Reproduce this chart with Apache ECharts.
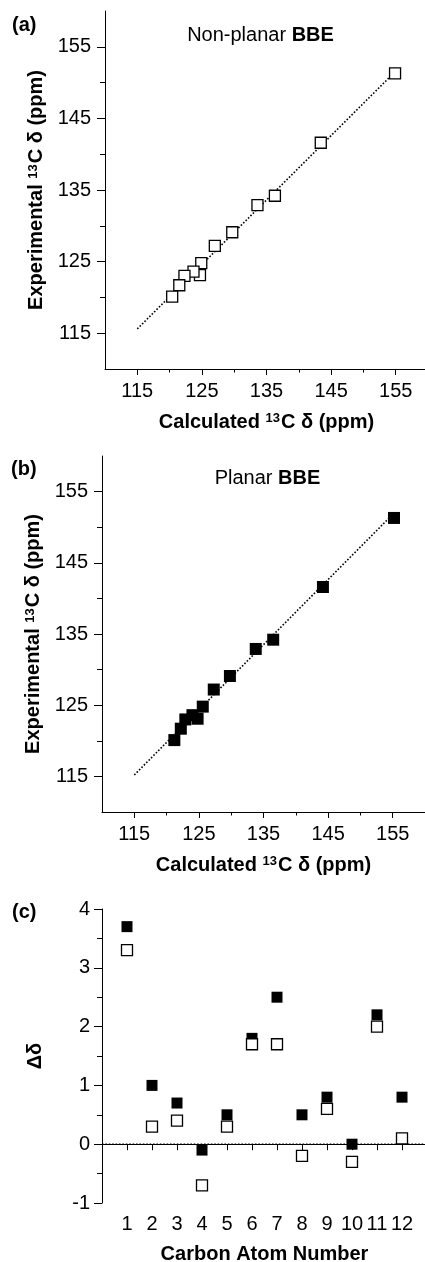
<!DOCTYPE html>
<html><head><meta charset="utf-8">
<script src="https://cdn.jsdelivr.net/npm/echarts@6/dist/echarts.min.js"></script>
<style>html,body{margin:0;padding:0;background:#fff}#c{width:425px;height:1262px}</style>
</head><body><div id="c"></div>
<script>
// ---- data ----
const expShift      = [151.3, 141.6, 134.2, 132.9, 129.1, 127.2, 124.8, 123.1, 123.6, 123.0, 121.7, 120.1];
const calcNonPlanar = [154.9, 143.4, 136.3, 133.6, 129.7, 127.0, 124.9, 124.7, 123.7, 122.3, 121.5, 120.4];
const calcPlanar    = [155.2, 144.2, 136.5, 133.8, 129.8, 127.3, 125.6, 124.8, 124.0, 122.9, 122.2, 121.2];
const fitNonPlanar  = [[115, 115.6], [155, 151.6]];
const fitPlanar     = [[115, 115.2], [155, 151.8]];
const carbonNumbers = [1, 2, 3, 4, 5, 6, 7, 8, 9, 10, 11, 12];
const deltaNonPlanar = [3.3, 0.3, 0.4, -0.7, 0.3, 1.7, 1.7, -0.2, 0.6, -0.3, 2.0, 0.1];
const deltaPlanar    = [3.7, 1.0, 0.7, -0.1, 0.5, 1.8, 2.5, 0.5, 0.8, 0.0, 2.2, 0.8];
const zeroLine = [[0, 0], [13, 0]];
const shiftTickLabels = [115, 125, 135, 145, 155];
const shiftMinorTicks = [120, 130, 140, 150];

const FONT = 'Liberation Sans, Arial, Helvetica, sans-serif';
const FS = 20;
const TFS = 20;
const nameStyle = {
  fontFamily: FONT, fontSize: FS, fontWeight: 'bold', color: '#000',
  rich: { sup: { fontFamily: FONT, fontSize: 13, fontWeight: 'bold', color: '#000', verticalAlign: 'top', padding: [0, 1, 0, 0] } }
};
const lineBlack = { show: true, lineStyle: { color: '#000', width: 1 } };
const labelStyle = { fontFamily: FONT, fontSize: TFS, color: '#000' };

function pair(list) { return list.map((c, i) => [c, expShift[i]]); }
function byCarbon(list) { return carbonNumbers.map((n, i) => [n, list[i]]); }

function shiftAxes(grid, xName, yName) {
  const xMain = {
    type: 'value', gridIndex: grid, position: 'bottom', min: 110, max: 160, interval: 5,
    axisLine: lineBlack, splitLine: { show: false },
    axisTick: { show: true, inside: false, length: 6, customValues: shiftTickLabels, lineStyle: { color: '#000' } },
    axisLabel: { show: true, customValues: shiftTickLabels, margin: 12, ...labelStyle },
    name: xName, nameLocation: 'middle', nameGap: 43, nameTextStyle: nameStyle
  };
  const xMinor = {
    type: 'value', gridIndex: grid, position: 'bottom', min: 110, max: 160, interval: 5,
    axisLine: { show: false }, splitLine: { show: false }, axisLabel: { show: false },
    axisTick: { show: true, length: 3.5, customValues: shiftMinorTicks, lineStyle: { color: '#000' } }
  };
  const yMain = {
    type: 'value', gridIndex: grid, position: 'left', min: 110, max: 160, interval: 5,
    axisLine: lineBlack, splitLine: { show: false },
    axisTick: { show: true, length: 8, customValues: shiftTickLabels, lineStyle: { color: '#000' } },
    axisLabel: { show: true, customValues: shiftTickLabels, margin: 14, ...labelStyle },
    name: yName, nameLocation: 'middle', nameGap: 58, nameTextStyle: nameStyle
  };
  const yMinor = {
    type: 'value', gridIndex: grid, position: 'left', min: 110, max: 160, interval: 5,
    axisLine: { show: false }, splitLine: { show: false }, axisLabel: { show: false },
    axisTick: { show: true, length: 5, customValues: shiftMinorTicks, lineStyle: { color: '#000' } }
  };
  return { x: [xMain, xMinor], y: [yMain, yMinor] };
}

const xName = 'Calculated {sup|13}C δ (ppm)';
const yName = 'Experimental {sup|13}C δ (ppm)';
const A = shiftAxes(0, xName, yName);
const B = shiftAxes(1, xName, yName);

const dotted = { color: '#000', width: 1.6, type: [1.6, 1.8] };

const option = {
  animation: false,
  backgroundColor: '#fff',
  grid: [
    { left: 105, top: 11, width: 323, height: 358, outerBoundsMode: 'none', containLabel: false },
    { left: 102, top: 456, width: 323, height: 356, outerBoundsMode: 'none', containLabel: false },
    { left: 102, top: 909, width: 325, height: 294, outerBoundsMode: 'none', containLabel: false }
  ],
  xAxis: [
    ...A.x, ...B.x,
    {
      type: 'value', gridIndex: 2, position: 'bottom', min: 0, max: 13, interval: 1,
      axisLine: lineBlack, splitLine: { show: false },
      axisTick: { show: true, length: 6, customValues: carbonNumbers, lineStyle: { color: '#000' } },
      axisLabel: { show: true, customValues: carbonNumbers, margin: 11, ...labelStyle },
      name: 'Carbon Atom Number', nameLocation: 'middle', nameGap: 41, nameTextStyle: nameStyle
    }
  ],
  yAxis: [
    ...A.y, ...B.y,
    {
      type: 'value', gridIndex: 2, position: 'left', min: -1, max: 4, interval: 1,
      axisLine: lineBlack, splitLine: { show: false },
      axisTick: { show: true, length: 8, lineStyle: { color: '#000' } },
      minorTick: { show: true, splitNumber: 2, length: 5, lineStyle: { color: '#000' } },
      axisLabel: { show: true, margin: 12, ...labelStyle },
      name: 'Δδ', nameLocation: 'middle', nameGap: 57, nameTextStyle: nameStyle
    }
  ],
  series: [
    { type: 'line', z: 1, xAxisIndex: 0, yAxisIndex: 0, data: fitNonPlanar, symbol: 'none', lineStyle: dotted, silent: true },
    { type: 'scatter', z: 2, xAxisIndex: 0, yAxisIndex: 0, data: pair(calcNonPlanar), symbol: 'rect', symbolSize: 11,
      itemStyle: { color: '#fff', borderColor: '#000', borderWidth: 1.3, opacity: 1 } },
    { type: 'line', z: 1, xAxisIndex: 2, yAxisIndex: 2, data: fitPlanar, symbol: 'none', lineStyle: dotted, silent: true },
    { type: 'scatter', z: 2, xAxisIndex: 2, yAxisIndex: 2, data: pair(calcPlanar), symbol: 'rect', symbolSize: 12,
      itemStyle: { color: '#000', borderColor: '#000', borderWidth: 0, opacity: 1 } },
    { type: 'line', z: 1, xAxisIndex: 4, yAxisIndex: 4, data: zeroLine, symbol: 'none', lineStyle: dotted, silent: true },
    { type: 'scatter', z: 2, xAxisIndex: 4, yAxisIndex: 4, data: byCarbon(deltaPlanar), symbol: 'rect', symbolSize: 11,
      itemStyle: { color: '#000', borderColor: '#000', borderWidth: 0, opacity: 1 } },
    { type: 'scatter', z: 3, xAxisIndex: 4, yAxisIndex: 4, data: byCarbon(deltaNonPlanar), symbol: 'rect', symbolSize: 11,
      itemStyle: { color: '#fff', borderColor: '#000', borderWidth: 1.3, opacity: 1 } }
  ],
  graphic: [
    { type: 'text', x: 12, y: 25, style: { text: '(a)', fontFamily: FONT, fontSize: FS, fontWeight: 'bold', fill: '#000', textVerticalAlign: 'middle' } },
    { type: 'text', x: 11, y: 469, style: { text: '(b)', fontFamily: FONT, fontSize: FS, fontWeight: 'bold', fill: '#000', textVerticalAlign: 'middle' } },
    { type: 'text', x: 12, y: 912, style: { text: '(c)', fontFamily: FONT, fontSize: FS, fontWeight: 'bold', fill: '#000', textVerticalAlign: 'middle' } },
    { type: 'text', x: 260.5, y: 35, style: { text: 'Non-planar {b|BBE}', fontFamily: FONT, fontSize: FS, fill: '#000', textAlign: 'center', textVerticalAlign: 'middle',
        rich: { b: { fontFamily: FONT, fontSize: FS, fontWeight: 'bold', fill: '#000' } } } },
    { type: 'text', x: 267.5, y: 478, style: { text: 'Planar {b|BBE}', fontFamily: FONT, fontSize: FS, fill: '#000', textAlign: 'center', textVerticalAlign: 'middle',
        rich: { b: { fontFamily: FONT, fontSize: FS, fontWeight: 'bold', fill: '#000' } } } }
  ]
};
const chart = echarts.init(document.getElementById('c'), null, { renderer: 'canvas' });
chart.setOption(option);
</script>
</body></html>
